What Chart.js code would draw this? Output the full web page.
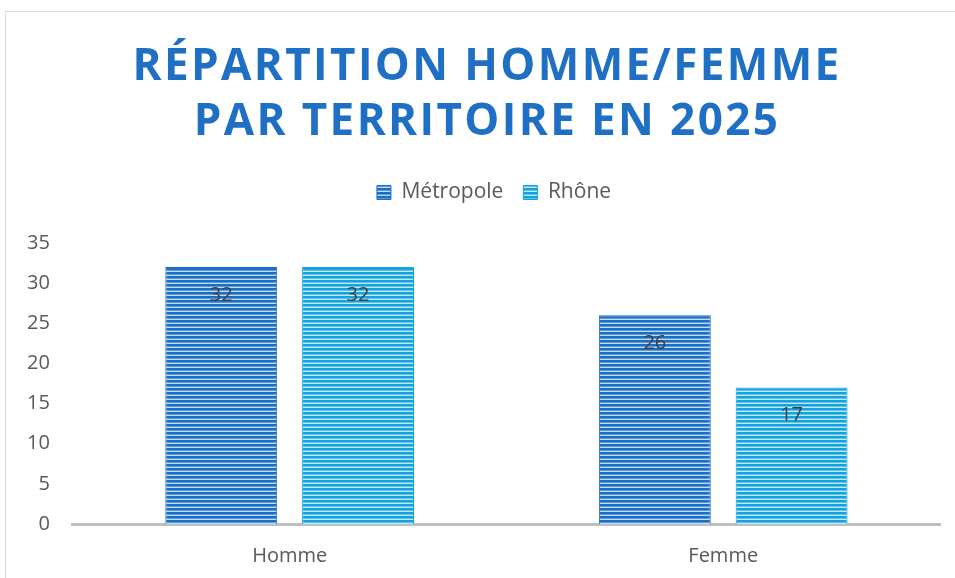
<!DOCTYPE html>
<html>
<head>
<meta charset="utf-8">
<script src="https://cdn.jsdelivr.net/npm/chart.js@4"></script>
<style>
  html, body { margin: 0; padding: 0; background: #fff; overflow: hidden; }
  #wrap { position: relative; width: 955px; height: 578px; }
  #frame { position: absolute; left: 5px; top: 11px; width: 1000px; height: 600px; border: 1px solid #d9d9d9; }
  #chart { position: absolute; left: 0; top: 0; }
</style>
</head>
<body>
<div id="wrap">
  <div id="frame"></div>
  <canvas id="chart" width="955" height="578"></canvas>
</div>
<script>
// data
const categories = ['Homme', 'Femme'];
const metropole = [32, 26];
const rhone = [32, 17];
const titleLines = ['RÉPARTITION HOMME/FEMME', 'PAR TERRITOIRE EN 2025'];

// striped fill like the original
function stripes(dark, mid, pale) {
    const c = document.createElement('canvas');
    c.width = 4; c.height = 4;
    const g = c.getContext('2d');
    g.fillStyle = dark; g.fillRect(0, 0, 4, 2);
    g.fillStyle = mid; g.fillRect(0, 2, 4, 1);
    g.fillStyle = pale; g.fillRect(0, 3, 4, 1);
    return g.createPattern(c, 'repeat');
}

const ctx = document.getElementById('chart').getContext('2d');
const metroFill = stripes('#1a6ec8', '#5b9bd9', '#c6dcf2');
const rhoneFill = stripes('#13a4e0', '#5fc1ea', '#c6e9f8');

const titlePlugin = {
    id: 'bigTitle',
    afterDraw(chart) {
        const c = chart.ctx;
        c.save();
        c.font = 'bold 44px "Open Sans"';
        c.fillStyle = '#1f6fc4';
        c.textAlign = 'center';
        c.textBaseline = 'alphabetic';
        c.letterSpacing = '2.4px';
        c.fillText(titleLines[0], 487, 80);
        c.fillText(titleLines[1], 487, 135);
        c.restore();
    }
};

// more room under the legend, and nudge it right like the original
const legendSpace = {
    id: 'legendSpace',
    beforeInit(chart) {
        const legend = chart.legend;
        const fit = legend.fit;
        legend.fit = function () {
            fit.call(this);
            this.height += 30;
        };
    },
    afterLayout(chart) {
        chart.legend.left += 22;
        chart.legend.right += 22;
    }
};

const valueLabels = {
    id: 'valueLabels',
    afterDatasetsDraw(chart) {
        const c = chart.ctx;
        c.save();
        c.font = '20px "Open Sans"';
        c.fillStyle = '#404040';
        c.textAlign = 'center';
        c.textBaseline = 'middle';
        chart.data.datasets.forEach((ds, i) => {
            chart.getDatasetMeta(i).data.forEach((bar, j) => {
                c.fillText(ds.data[j], bar.x, bar.y + 28);
            });
        });
        c.restore();
    }
};

const tickFont = { family: 'Open Sans', size: 20 };

new Chart(ctx, {
    type: 'bar',
    data: {
        labels: categories,
        datasets: [{
            label: 'Métropole',
            data: metropole,
            backgroundColor: metroFill,
            borderColor: '#1a6ec8',
            borderWidth: 1
        }, {
            label: 'Rhône',
            data: rhone,
            backgroundColor: rhoneFill,
            borderColor: '#13a4e0',
            borderWidth: 1
        }]
    },
    options: {
        responsive: false,
        animation: false,
        categoryPercentage: 0.631,
        barPercentage: 0.818,
        layout: { padding: { top: 162, left: 4, right: 15, bottom: -10 } },
        plugins: {
            legend: {
                position: 'top',
                labels: {
                    boxWidth: 14,
                    boxHeight: 14,
                    padding: 20,
                    color: '#595959',
                    font: { family: 'Open Sans', size: 21 }
                }
            },
            tooltip: { enabled: false }
        },
        scales: {
            y: {
                min: 0,
                max: 35,
                ticks: { stepSize: 5, padding: 23, color: '#595959', font: tickFont },
                grid: { display: false, drawTicks: false },
                border: { display: false }
            },
            x: {
                ticks: { padding: 20, color: '#595959', font: tickFont },
                grid: { display: false, drawTicks: false },
                border: { color: '#bfbfbf', width: 3 }
            }
        }
    },
    plugins: [titlePlugin, legendSpace, valueLabels]
});
</script>
</body>
</html>
